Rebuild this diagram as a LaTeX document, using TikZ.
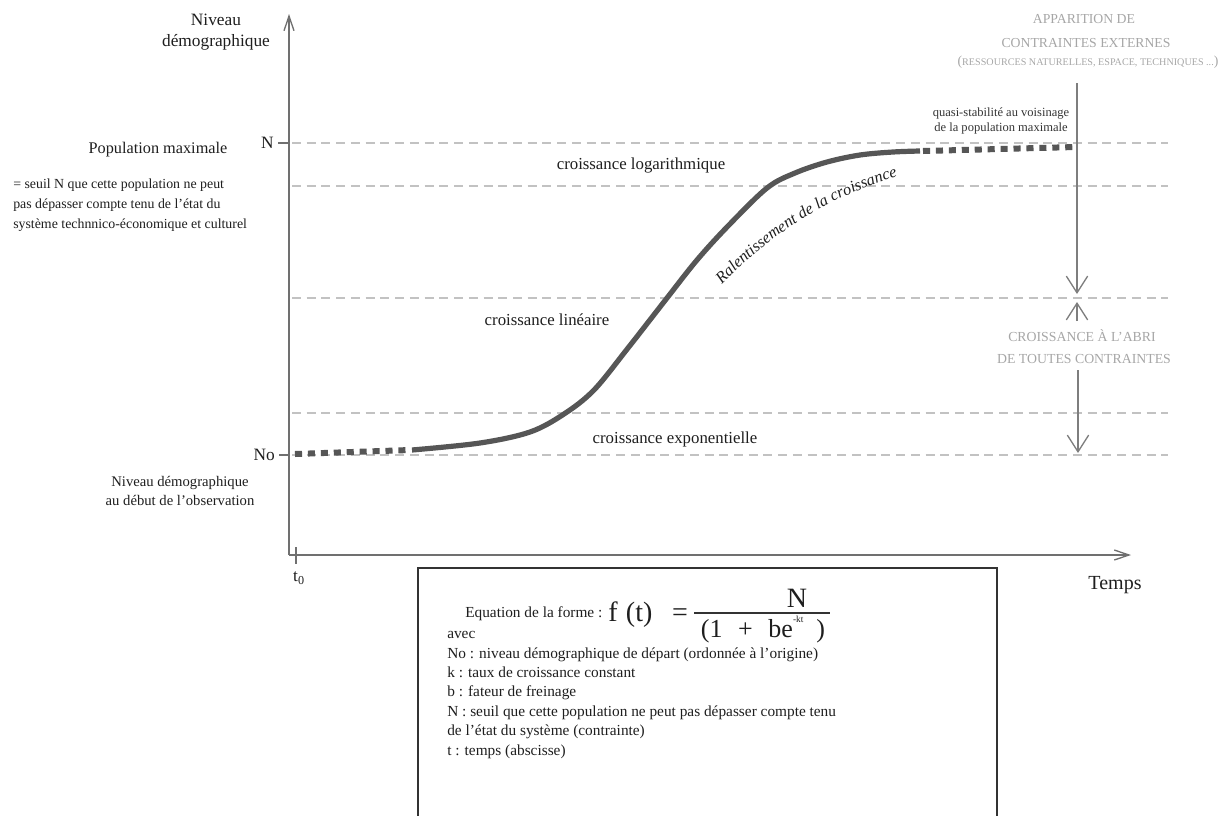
\documentclass[tikz,border=0pt]{standalone}
\usepackage{fontspec}
\setmainfont{Liberation Serif}
\usetikzlibrary{arrows.meta,decorations.text}
\definecolor{axisgray}{HTML}{707070}
\definecolor{guidegray}{HTML}{C2C2C2}
\definecolor{curvegray}{HTML}{565656}
\definecolor{softgray}{HTML}{A6A6A6}
\definecolor{inkgray}{HTML}{1E1E1E}
\definecolor{boxgray}{HTML}{333333}
\newcommand\fsz[2]{\fontsize{#1}{#2}\selectfont}
\newcommand\ralfont{\fsz{12.2pt}{14pt}\itshape}
\begin{document}
\begin{tikzpicture}[x=0.75pt,y=-0.75pt,
  lbl/.style={inner sep=0pt, text=inkgray},
  soft/.style={inner sep=0pt, text=softgray},
  boxtxt/.style={inner sep=0pt, text=inkgray, anchor=base west, font=\fsz{11.5pt}{14pt}},
  axisline/.style={draw=axisgray, line width=1.1pt},
  axisarrow/.style={axisline, -{Straight Barb[length=11pt,width=7.5pt,line width=1pt]}},
  guide/.style={draw=guidegray, line width=0.9pt, dash pattern=on 6.75pt off 4.3pt},
  curveline/.style={draw=curvegray, line width=3.9pt},
  dotcurve/.style={draw=curvegray, line width=4.5pt, dash pattern=on 5.3pt off 4.4pt},
  garrow/.style={draw=axisgray!90, line width=1.1pt, -{Straight Barb[length=12.5pt,width=16pt,line width=1pt]}},
  boxline/.style={draw=boxgray, line width=1.1pt}]
\useasboundingbox (0,0) rectangle (1222,815);

% guide lines
\foreach \yy in {143,186,298,413,455}{\draw[guide] (292,\yy) -- (1168,\yy);}

% axes
\coordinate (O) at (289,555);
\coordinate (ytip) at (289,14);
\coordinate (xtip) at (1131,555);
\draw[axisarrow] (O) -- (ytip);
\draw[axisarrow] (O) -- (xtip);
\coordinate (Nt1) at (278,143); \coordinate (Nt2) at (289,143);
\coordinate (Not1) at (279,455); \coordinate (Not2) at (289,455);
\coordinate (tt1) at (296,547); \coordinate (tt2) at (296,564);
\draw[axisline] (Nt1) -- (Nt2);
\draw[axisline] (Not1) -- (Not2);
\draw[axisline] (tt1) -- (tt2);

% curve
\draw[dotcurve] (295,454) -- (410,450);
\draw[curveline] plot[smooth, tension=0.55] coordinates {(412,450) (480,443) (530,432) (564,414) (594,390) (628,348) (667,298) (697,260) (728,226) (767,188) (795,173) (827,162) (860,155) (893,152) (920,151)};
\draw[dotcurve] (923,151) -- (1076,147);

% ralentissement
\path[decorate, decoration={text along path, text align=center,
  text={|\color{inkgray}\ralfont|Ralentissement de la croissance}}]
  (720,286) .. controls (760,245) and (818,199) .. (900,176);

% axis labels
\node[lbl, font=\fsz{13pt}{15.75pt}, align=center] (ylab) at (216,32) {Niveau\\démographique};
\node[lbl, font=\fsz{13pt}{15pt}, anchor=east] (Nlab) at (274,143) {N};
\node[lbl, font=\fsz{13pt}{15pt}, anchor=east] (Nolab) at (275,455) {No};
\node[lbl, font=\fsz{12.2pt}{15pt}] (popmax) at (158,150) {Population maximale};
\node[lbl, font=\fsz{10.4pt}{15pt}, align=left, anchor=west] (seuil) at (13,205)
  {= seuil N que cette population ne peut\\pas dépasser compte tenu de l’état du\\système technnico-économique et culturel};
\node[lbl, font=\fsz{11pt}{14.25pt}, align=center] (debut) at (180,491)
  {Niveau démographique\\au début de l'observation};
\node[lbl, font=\fsz{13pt}{15pt}] (t0) at (299,578) {t\textsubscript{0}};
\node[lbl, font=\fsz{15pt}{17pt}] (temps) at (1115,585) {Temps};

% phase labels
\node[lbl, font=\fsz{12.6pt}{15pt}] (clog) at (641,165) {croissance logarithmique};
\node[lbl, font=\fsz{12.6pt}{15pt}] (clin) at (547,320) {croissance linéaire};
\node[lbl, font=\fsz{12.6pt}{15pt}] (cexp) at (675,439) {croissance exponentielle};

% right side
\node[soft, font=\fsz{10.3pt}{12pt}] (app1) at (1084,19) {APPARITION DE};
\node[soft, font=\fsz{10.3pt}{12pt}] (app2) at (1086,43) {CONTRAINTES EXTERNES};
\node[soft, font=\fsz{7.6pt}{10pt}] (app3) at (1088,62) {{\fsz{10.3pt}{12pt}(}RESSOURCES NATURELLES, ESPACE, TECHNIQUES ...{\fsz{10.3pt}{12pt})}};
\node[lbl, font=\fsz{9.4pt}{11.25pt}, align=center, text=boxgray] (quasi) at (1001,120.5)
  {quasi-stabilité au voisinage\\de la population maximale};
\node[soft, font=\fsz{10.35pt}{12pt}] (abri1) at (1082,336) {CROISSANCE À L'ABRI};
\node[soft, font=\fsz{10.35pt}{12pt}] (abri2) at (1084,359) {DE TOUTES CONTRAINTES};
\coordinate (a1s) at (1077,83); \coordinate (a1e) at (1077,294);
\coordinate (a2s) at (1077,321); \coordinate (a2e) at (1077,302);
\coordinate (a3s) at (1078,370); \coordinate (a3e) at (1078,453);
\draw[garrow] (a1s) -- (a1e);
\draw[garrow] (a2s) -- (a2e);
\draw[garrow] (a3s) -- (a3e);

% formula box
\draw[boxline] (418,830) -- (418,568) -- (997,568) -- (997,830);
\node[boxtxt] (eqlab) at (465,617) {Equation de la forme :};
\node[lbl, font=\fsz{21pt}{24pt}, anchor=base west] (fdet) at (608,621) {f\hspace{0.3em}(t)\hspace{0.7em}=};
\node[lbl, font=\fsz{21pt}{24pt}, anchor=base] (num) at (797,607) {N};
\coordinate (bar1) at (694,613); \coordinate (bar2) at (830,613);
\draw[boxline] (bar1) -- (bar2);
\node[lbl, font=\fsz{19.5pt}{22pt}, anchor=base] (den) at (763,637)
  {(1\hspace{0.6em}+\hspace{0.6em}be\raisebox{0.55em}{\fsz{7pt}{8pt}-kt}\hspace{0.5em})};
\node[boxtxt] (l1) at (447,638) {avec};
\node[boxtxt] (l2) at (447,658.5) {No : niveau démographique de départ (ordonnée à l’origine)};
\node[boxtxt] (l3) at (447,677.5) {k : taux de croissance constant};
\node[boxtxt] (l4) at (447,696.5) {b : fateur de freinage};
\node[boxtxt] (l5) at (447,716) {N : seuil que cette population ne peut pas dépasser compte tenu};
\node[boxtxt] (l6) at (447,735.5) {de l’état du système (contrainte)};
\node[boxtxt] (l7) at (447,755) {t : temps (abscisse)};
\end{tikzpicture}
\end{document}
